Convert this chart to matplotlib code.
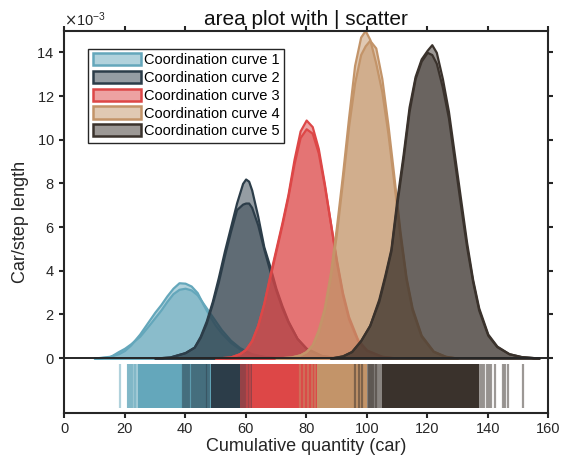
import matplotlib
matplotlib.use('Agg')
import matplotlib.pyplot as plt
from matplotlib.patches import Patch
from matplotlib.ticker import ScalarFormatter
from matplotlib.colors import to_rgba

plt.rcParams['font.family'] = ['Liberation Sans', 'DejaVu Sans']

# --- data (density values in units of 1e-3) ---
labels = ['Coordination curve 1', 'Coordination curve 2', 'Coordination curve 3',
          'Coordination curve 4', 'Coordination curve 5']
colors = ['#64A7BB', '#2C3D49', '#DD4747', '#C39469', '#3A322C']

x1 = [10, 15, 18, 20, 22, 25, 28, 30, 32, 34, 36, 38, 40, 42, 44, 46, 48, 50, 52, 55, 58, 62, 66, 70, 75]
y1a = [0.0, 0.08, 0.2, 0.35, 0.6, 1.1, 1.7, 2.1, 2.45, 2.85, 3.2, 3.45, 3.43, 3.3, 3.0, 2.45, 1.95, 1.5, 1.15, 0.72, 0.42, 0.17, 0.07, 0.02, 0.0]
y1b = [0.0, 0.05, 0.3, 0.45, 0.65, 1.0, 1.5, 1.85, 2.2, 2.6, 2.95, 3.15, 3.2, 3.12, 2.9, 2.5, 2.1, 1.7, 1.3, 0.82, 0.48, 0.2, 0.08, 0.02, 0.0]

x2 = [30, 35, 40, 43, 45, 47, 49, 51, 53, 55, 57, 59, 60, 61, 62, 64, 66, 68, 70, 72, 74, 77, 80, 85, 90]
y2a = [0.0, 0.05, 0.25, 0.5, 1.0, 1.7, 2.6, 3.7, 4.9, 6.0, 7.1, 8.0, 8.2, 8.1, 7.7, 6.5, 5.1, 4.2, 3.2, 2.4, 1.7, 0.9, 0.45, 0.12, 0.02]
y2b = [0.0, 0.05, 0.25, 0.5, 0.95, 1.6, 2.5, 3.5, 4.7, 5.8, 6.8, 7.05, 7.1, 7.1, 6.9, 6.1, 5.0, 4.0, 3.1, 2.3, 1.65, 0.9, 0.45, 0.12, 0.02]

x3 = [50, 55, 58, 60, 62, 64, 66, 68, 70, 72, 74, 76, 78, 80, 82, 84, 86, 88, 90, 92, 94, 97, 100, 105, 110]
y3a = [0.0, 0.05, 0.2, 0.4, 0.8, 1.5, 2.5, 3.8, 5.0, 6.2, 7.5, 9.1, 10.4, 10.9, 10.6, 9.6, 8.0, 6.2, 4.4, 2.9, 1.8, 0.8, 0.35, 0.08, 0.0]
y3b = [0.0, 0.05, 0.2, 0.4, 0.8, 1.5, 2.5, 3.7, 4.9, 6.1, 7.4, 8.9, 10.1, 10.5, 10.3, 9.4, 7.9, 6.2, 4.5, 3.0, 1.9, 0.85, 0.37, 0.08, 0.0]

x4 = [70, 75, 78, 80, 82, 84, 86, 88, 90, 92, 94, 96, 98, 99.5, 101, 103, 105, 107, 109, 111, 113, 115, 118, 122, 126, 130]
y4a = [0.0, 0.05, 0.15, 0.3, 0.6, 1.3, 2.3, 3.9, 6.0, 8.4, 11.0, 13.4, 14.7, 15.0, 14.6, 13.5, 12.2, 10.3, 8.0, 5.6, 3.6, 2.2, 1.0, 0.3, 0.08, 0.0]
y4b = [0.0, 0.05, 0.15, 0.3, 0.6, 1.2, 2.2, 3.7, 5.7, 8.1, 10.6, 12.6, 13.9, 14.3, 14.55, 14.2, 12.8, 10.7, 8.3, 5.8, 3.7, 2.3, 1.05, 0.32, 0.08, 0.0]

x5 = [88, 92, 95, 98, 101, 104, 106, 108, 110, 112, 114, 116, 118, 120, 121.5, 123, 125, 127, 129, 131, 133, 135, 137, 140, 143, 147, 151, 157]
y5a = [0.0, 0.1, 0.3, 0.8, 1.5, 2.7, 3.8, 5.0, 7.3, 9.3, 11.5, 12.9, 13.7, 14.1, 14.35, 14.0, 12.8, 11.3, 9.3, 7.3, 5.3, 3.6, 2.3, 1.1, 0.55, 0.2, 0.07, 0.0]
y5b = [0.0, 0.1, 0.3, 0.8, 1.5, 2.6, 3.7, 4.9, 7.1, 9.1, 11.3, 12.8, 13.6, 14.0, 13.9, 13.5, 12.4, 11.0, 9.0, 7.0, 5.1, 3.5, 2.2, 1.05, 0.52, 0.2, 0.07, 0.0]

curves = [(x1, y1a, y1b), (x2, y2a, y2b), (x3, y3a, y3b), (x4, y4a, y4b), (x5, y5a, y5b)]

# rug ("scatter |") : dense spans and single marks, per curve
rug_core = [[(24.3, 48.5)], [(48.5, 62.0)], [(62.0, 83.7)], [(83.7, 100.0)], [(105.0, 137.0)]]
rug_edge = [[(20.8, 24.3)], [], [(58.2, 62.0)], [], [(100.2, 105.0)]]
rug_lines = [
    [18.6, 21.0, 21.7, 22.5, 23.3],
    [39.3, 39.9, 40.5, 41.2, 42.3, 43.0, 43.6, 44.3, 44.9, 45.6, 46.2, 46.8, 47.4, 48.0],
    [60.6, 61.3, 63.2],
    [78.0, 79.3, 80.6, 81.8, 83.0],
    [96.2, 97.6, 98.6, 100.6, 101.4, 102.2, 103.0, 137.3, 138.1, 138.9, 139.6,
     140.4, 141.1, 142.4, 144.9, 145.8, 146.6, 151.6],
]

fig = plt.figure(figsize=(5.72, 4.61), dpi=100)
ax = fig.add_axes([0.1119, 0.1048, 0.8467, 0.829])

txt = '#262626'
scale = 1e-3
for (x, ya, yb), c in zip(curves, colors):
    for y in (ya, yb):
        yy = [v * scale for v in y]
        ax.fill_between(x, yy, 0, facecolor=to_rgba(c, 0.5), edgecolor=c, linewidth=1.6, zorder=2)

rug_y0, rug_y1 = -0.25e-3, -2.3e-3
for c, core, edge, lines in zip(colors, rug_core, rug_edge, rug_lines):
    if edge:
        ax.broken_barh([(a, b - a) for a, b in edge], (rug_y1, rug_y0 - rug_y1),
                       facecolor=to_rgba(c, 0.6), edgecolor='none', zorder=3)
    ax.broken_barh([(a, b - a) for a, b in core], (rug_y1, rug_y0 - rug_y1),
                   facecolor=c, edgecolor='none', zorder=3)
    ax.vlines(lines, rug_y1, rug_y0, colors=[to_rgba(c, 0.5)], linewidth=1.6, zorder=3)

ax.axhline(0, color=txt, linewidth=1.4, zorder=4)

ax.set_xlim(0, 160)
ax.set_ylim(-2.5e-3, 15e-3)
ax.set_xticks(range(0, 161, 20))
ax.set_yticks([v * scale for v in range(0, 15, 2)])
fmt = ScalarFormatter(useMathText=True)
fmt.set_powerlimits((-3, -3))
ax.yaxis.set_major_formatter(fmt)
ax.yaxis.get_offset_text().set_fontsize(10.5)
ax.yaxis.get_offset_text().set_color('#555555')

for s in ax.spines.values():
    s.set_color(txt)
    s.set_linewidth(1.5)
ax.tick_params(direction='out', length=3.5, width=1.5, colors=txt, labelsize=10.5,
               top=True, right=True, labelcolor=txt)

ax.set_xlabel('Cumulative quantity (car)', fontsize=13, color=txt, labelpad=1)
ax.set_ylabel('Car/step length', fontsize=13, color=txt, labelpad=5)
ax.set_title('area plot with | scatter', fontsize=15, color='#111111', pad=4)

handles = [Patch(facecolor=to_rgba(c, 0.5), edgecolor=c, linewidth=1.8) for c in colors]
leg = ax.legend(handles, labels, loc='upper left', bbox_to_anchor=(0.05, 0.952),
                fontsize=10.5, frameon=True, fancybox=False, framealpha=1,
                edgecolor=txt, handlelength=3.3, handleheight=0.9,
                handletextpad=0.25, labelspacing=0.25, borderpad=0.3, borderaxespad=0)
leg.get_frame().set_linewidth(1.0)
leg.set_zorder(6)

fig.savefig('out.png', dpi=100)
